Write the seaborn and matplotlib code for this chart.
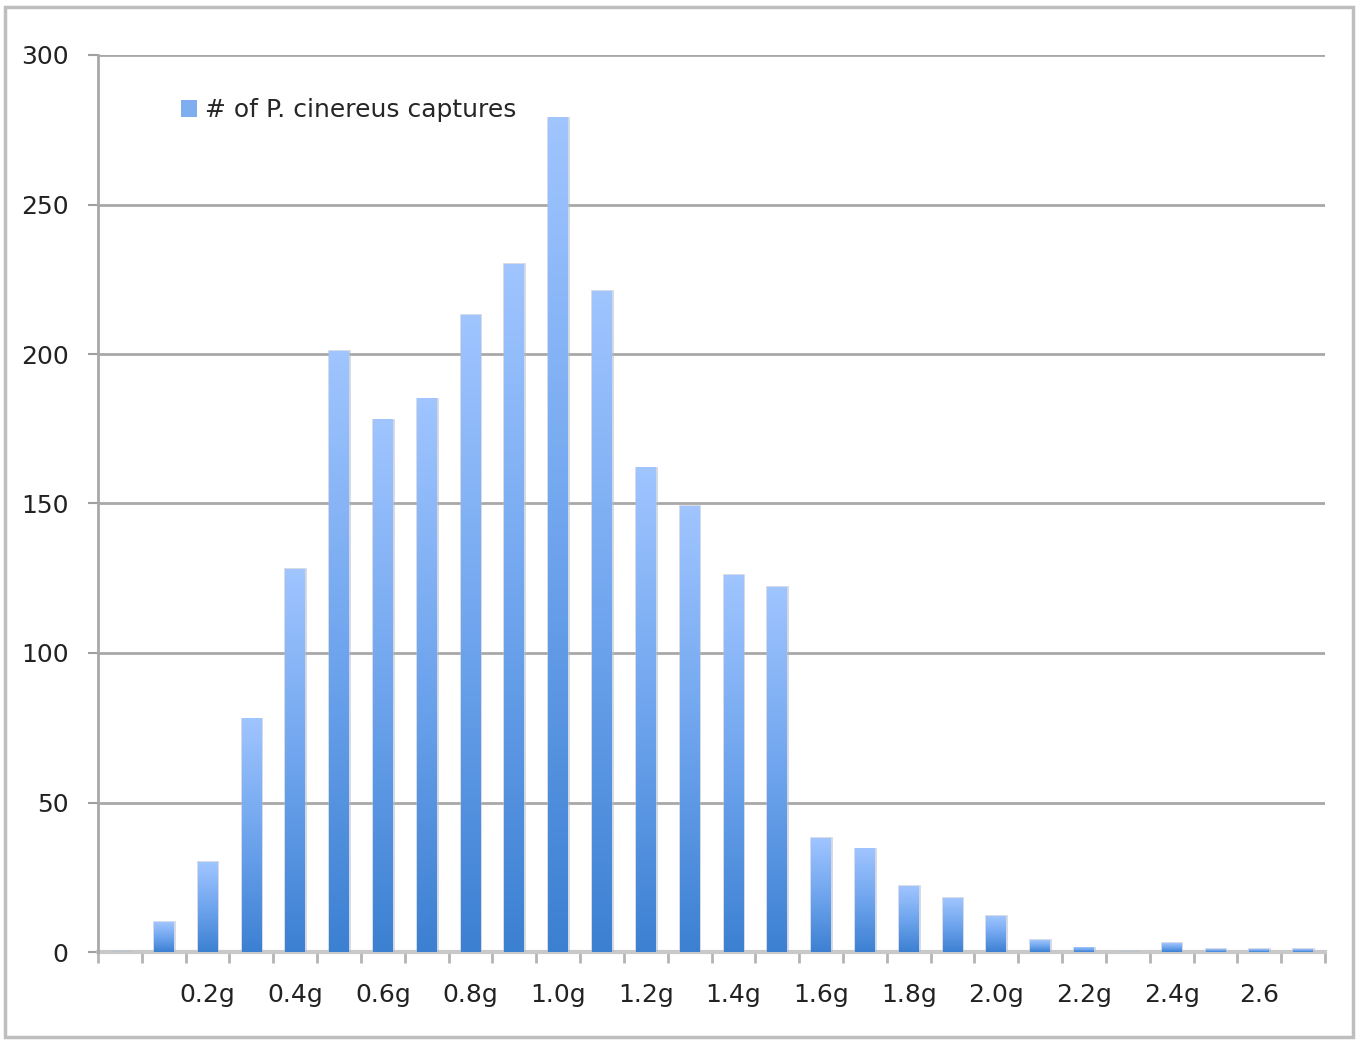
import matplotlib
matplotlib.use("Agg")
import matplotlib.pyplot as plt
import numpy as np
import pandas as pd
import seaborn as sns
from matplotlib.colors import LinearSegmentedColormap
from matplotlib.patches import Patch, Rectangle

# weight classes (0.0g .. 2.7g) and capture counts
weights = ["0.0", "0.1", "0.2", "0.3", "0.4", "0.5", "0.6", "0.7", "0.8", "0.9",
           "1.0", "1.1", "1.2", "1.3", "1.4", "1.5", "1.6", "1.7", "1.8", "1.9",
           "2.0", "2.1", "2.2", "2.3", "2.4", "2.5", "2.6", "2.7"]
captures = [0, 10, 30, 78, 128, 201, 178, 185, 213, 230,
            279, 221, 162, 149, 126, 122, 38, 34.5, 22, 18,
            12, 4, 1.5, 0, 3, 1, 1, 1]
tick_labels = ["", "", "0.2g", "", "0.4g", "", "0.6g", "", "0.8g", "",
               "1.0g", "", "1.2g", "", "1.4g", "", "1.6g", "", "1.8g", "",
               "2.0g", "", "2.2g", "", "2.4g", "", "2.6", ""]
y_ticks = [0, 50, 100, 150, 200, 250, 300]
series_name = "# of P. cinereus captures"

df = pd.DataFrame({"weight": weights, "captures": captures})

sns.set_style("white")
plt.rcParams["font.family"] = ["DejaVu Sans"]

fig = plt.figure(figsize=(13.59, 10.43), dpi=100)
ax = fig.add_axes([98 / 1359, 1 - 952 / 1043, (1325 - 98) / 1359, (952 - 55) / 1043])

sns.barplot(data=df, x="weight", y="captures", order=weights, width=0.45,
            color="#7FAEF0", ax=ax, zorder=3)

# vertical gradient per bar: light on top, darker at the base
grad_cmap = LinearSegmentedColormap.from_list("bar", ["#3C80D2", "#6FA5EE", "#A0C5FF"])
grad = np.linspace(0, 1, 256).reshape(-1, 1)
for p in ax.patches:
    x, w, h = p.get_x(), p.get_width(), p.get_height()
    p.set_facecolor("none")
    p.set_edgecolor((0.70, 0.74, 0.82, 0.6))
    p.set_linewidth(2.0)
    if h <= 0:
        continue
    ax.imshow(grad, extent=[x, x + w, 0, h], origin="lower", aspect="auto",
              cmap=grad_cmap, zorder=3.5, interpolation="bilinear")

ax.set_xlim(-0.5, len(weights) - 0.5)
ax.set_ylim(0, 300)
ax.set_yticks(y_ticks)
ax.set_yticklabels([str(v) for v in y_ticks], fontsize=18, color="#222222")
ax.set_xticks(range(len(weights)))
ax.set_xticklabels(tick_labels, fontsize=18, color="#222222")
ax.set_xticks(np.arange(len(weights) + 1) - 0.5, minor=True)
ax.tick_params(axis="x", which="major", bottom=True, length=0, pad=22)
ax.tick_params(axis="x", which="minor", bottom=True, length=8, width=2,
               color="#B4B4B4", direction="out")
ax.tick_params(axis="y", which="major", left=True, length=7.2, width=1.5,
               color="#A0A0A0", pad=14)
ax.set_xlabel("")
ax.set_ylabel("")

ax.yaxis.grid(True, color="#A8A8A8", linewidth=2, zorder=0)
ax.set_axisbelow(True)
for side in ["top", "right"]:
    ax.spines[side].set_visible(False)
ax.spines["left"].set_color("#A8A8A8")
ax.spines["left"].set_linewidth(2)
ax.spines["bottom"].set_color("#C8C8C8")
ax.spines["bottom"].set_linewidth(3)
ax.spines["bottom"].set_zorder(2)

handle = Patch(facecolor="#7FAEF0", edgecolor="none")
ax.legend([handle], [series_name], loc="center left",
          bbox_to_anchor=((181 - 98) / 1227, (952 - 110) / 897),
          frameon=False, fontsize=18, handlelength=0.65, handleheight=0.65,
          handletextpad=0.3, borderpad=0, borderaxespad=0)

# outer chart frame
fig.patches.append(Rectangle((5 / 1359, 6 / 1043), (1353 - 5) / 1359, (1036 - 6) / 1043,
                             transform=fig.transFigure, fill=False,
                             edgecolor="#BEBEBE", linewidth=2.5))

fig.savefig("out.png", dpi=100)
